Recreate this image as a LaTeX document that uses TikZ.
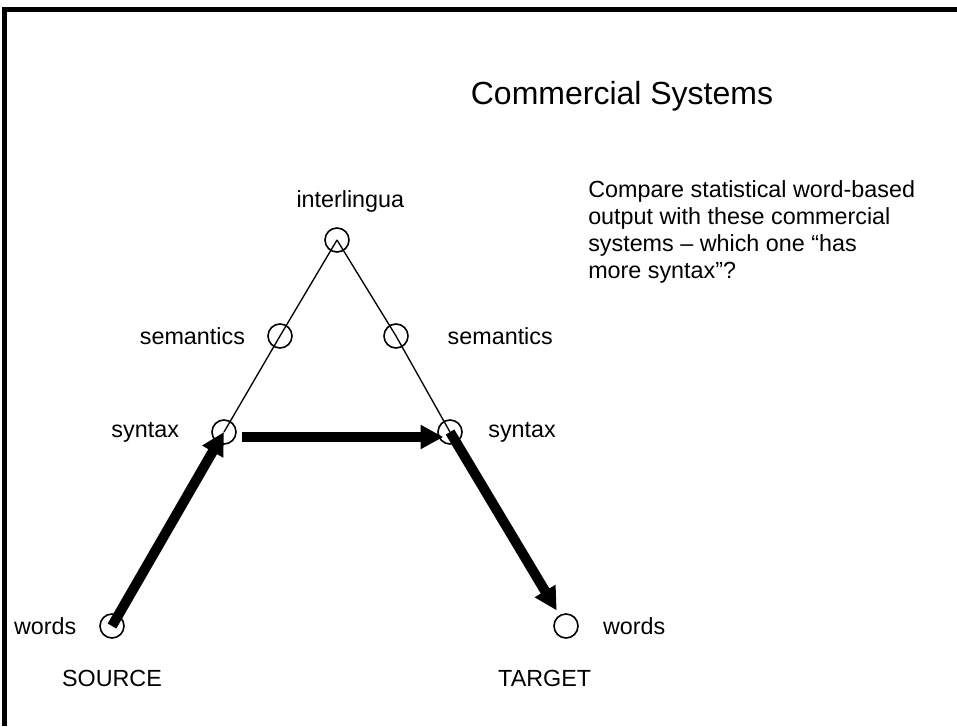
\documentclass[tikz,border=0pt]{standalone}
\usepackage{fontspec}
\setmainfont{Liberation Sans}
\usetikzlibrary{arrows.meta, positioning}

\begin{document}
\begin{tikzpicture}[
  x=0.75pt, y=-0.75pt,
  font=\fontsize{17.5pt}{20.25pt}\selectfont,
  level/.style={circle, draw, line width=1.2pt, minimum size=18pt, inner sep=0pt},
  tag/.style={inner sep=0pt},
  link/.style={line width=1pt},
  move/.style={line width=7.5pt, -{Triangle[length=17pt, width=17pt]}},
  frame/.style={line width=3.5pt}
]
\useasboundingbox (0,0) rectangle (957,726);

% Frame
\draw[frame] (4.5,726) -- (4.5,9.5) -- (957,9.5);

% Title and note
\node[font=\fontsize{24pt}{28pt}\selectfont] (title) at (622,96) {Commercial Systems};
\node[tag, anchor=north west, align=left] (note) at (588,180)
  {Compare statistical word-based\\output with these commercial\\systems -- which one ``has\\more syntax''?};

% Levels
\node[level] (inter) at (337,240) {};
\node[level] (semL) at (280,336) {};
\node[level] (semR) at (396,336) {};
\node[level] (synL) at (224,432) {};
\node[level] (synR) at (450,432) {};
\node[level] (wordsL) at (112,626) {};
\node[level] (wordsR) at (566,626) {};

% Labels
\node[tag, above=11pt of inter, xshift=10pt] (interlbl) {interlingua};
\node[tag, left=16.5pt of semL] (semLlbl) {semantics};
\node[tag, right=29pt of semR] (semRlbl) {semantics};
\node[tag, left=24pt of synL] (synLlbl) {syntax};
\node[tag, right=19pt of synR] (synRlbl) {syntax};
\node[tag, left=17pt of wordsL] (wordsLlbl) {words};
\node[tag, right=18pt of wordsR] (wordsRlbl) {words};
\node[tag, below=23pt of wordsL] (source) {SOURCE};
\node[tag, below=23pt of wordsR, xshift=-16pt] (target) {TARGET};

% Thin links
\draw[link] (inter.center) -- (semL.center) -- (synL.center);
\draw[link] (inter.center) -- (semR.center) -- (synR.center);

% Thick transfer arrows
\draw[move] (wordsL.center) -- (synL.center);
\draw[move, shorten <=4pt] ([yshift=-3.75pt]synL.east) -- ([yshift=-3.75pt, xshift=-5pt]synR.center);
\draw[move, shorten >=4pt] (synR.center) -- (wordsR);

\end{tikzpicture}
\end{document}
